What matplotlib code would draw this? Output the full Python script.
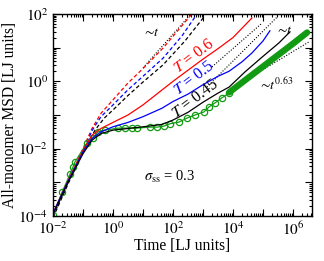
import numpy as np
import matplotlib
matplotlib.use("Agg")
import matplotlib.pyplot as plt
from matplotlib.ticker import LogLocator, FuncFormatter, NullFormatter

plt.rcParams['font.family'] = ['Liberation Serif', 'DejaVu Serif']
plt.rcParams['mathtext.fontset'] = 'stix'

# log10(time), log10(MSD)
red_x = [-2, -1.5, -1, -0.7, -0.4, 0, 0.5, 1, 1.5, 2, 2.5, 3, 3.5, 4, 4.63]
red_y = [-3.92, -2.95, -2.05, -1.6, -1.4, -1.22, -1.0, -0.7, -0.35, 0.0, 0.33, 0.66, 0.97, 1.3, 1.88]

blue_x = [-2, -1.5, -1, -0.7, -0.4, 0, 0.5, 1, 1.63, 2, 2.5, 3, 3.5, 3.87, 4.3, 4.63, 5.0, 5.23]
blue_y = [-3.92, -2.97, -2.1, -1.7, -1.5, -1.35, -1.22, -1.05, -0.8, -0.6, -0.38, -0.1, 0.15, 0.3, 0.58, 0.84, 1.2, 1.5]

black_x = [-2, -1.5, -1, -0.7, -0.4, 0, 0.5, 1, 1.63, 2, 2.5, 3, 3.5, 3.87, 4.4, 4.97, 5.53, 5.9]
black_y = [-3.95, -3.0, -2.15, -1.75, -1.55, -1.45, -1.4, -1.35, -1.28, -1.15, -0.92, -0.62, -0.35, -0.17, 0.28, 0.72, 1.14, 1.47]

green_x = [-2, -1.7, -1.43, -1.33, -1.27, -0.87, -0.67, -0.5, -0.27, 0.17, 0.4, 0.63, 0.8, 1.23, 1.47,
           1.7, 1.9, 2.2, 2.47, 2.73, 3.03, 3.2, 3.4, 3.63, 3.87]
green_y = [-3.97, -3.3, -2.75, -2.54, -2.4, -1.83, -1.68, -1.5, -1.45, -1.39, -1.39, -1.39, -1.39, -1.36, -1.36,
           -1.33, -1.26, -1.21, -1.09, -1.0, -0.91, -0.76, -0.64, -0.49, -0.35]
green_late_x = [3.87, 4.5, 5.0, 5.5, 6.0, 6.47]
green_late_y = [-0.33, 0.1, 0.44, 0.78, 1.12, 1.45]

red_d_x = [-2, -1.5, -1, -0.7, -0.4, 0, 0.5, 1, 1.67, 2.2, 2.63]
red_d_y = [-4.0, -3.0, -2.0, -1.4, -0.95, -0.55, -0.05, 0.38, 0.99, 1.55, 2.0]
blue_d_x = [-2, -1.5, -1, -0.67, -0.4, 0, 0.5, 1, 1.67, 2.3, 2.8]
blue_d_y = [-4.0, -3.0, -2.05, -1.42, -1.05, -0.7, -0.25, 0.15, 0.69, 1.35, 2.0]
black_d_x = [-2, -1.5, -1, -0.6, -0.3, 0, 0.5, 1, 1.67, 2.4, 3.03]
black_d_y = [-4.05, -3.05, -2.1, -1.45, -1.1, -0.85, -0.42, -0.02, 0.49, 1.2, 1.91]

# dotted power-law guides
guide_a = ([1.0, 2.6], [0.4, 2.0])
guide_b = ([3.3, 4.97], [0.43, 1.73])
guide_c = ([3.13, 5.47], [-0.17, 1.91])
guide_d = ([3.87, 6.53], [-0.26, 1.17])

def p(xs, ys):
    return 10.0 ** np.array(xs), 10.0 ** np.array(ys)

fig = plt.figure(figsize=(3.24, 2.61), dpi=100)
ax = fig.add_axes([0.1636, 0.1724, 0.7994, 0.7740])

green = '#139a13'
for g in (guide_a, guide_b, guide_c, guide_d):
    ax.plot(*p(*g), color='k', ls=(0, (1, 1.5)), lw=0.8)

ax.plot(*p(red_d_x, red_d_y), color='red', ls=(0, (3, 2)), lw=0.9)
ax.plot(*p(blue_d_x, blue_d_y), color='blue', ls=(0, (3, 2)), lw=0.9)
ax.plot(*p(black_d_x, black_d_y), color='k', ls=(0, (3, 2)), lw=0.9)

ax.plot(*p(green_x, green_y), color=green, lw=0.9, marker='o', ms=4.5, mfc='none', mew=0.9)
ax.plot(*p(green_late_x, green_late_y), color=green, lw=4.6, solid_capstyle='round')

ax.plot(*p(red_x, red_y), color='red', lw=0.9)
ax.plot(*p(blue_x, blue_y), color='blue', lw=0.9)
ax.plot(*p(black_x, black_y), color='k', lw=0.9)

ax.set_xscale('log')
ax.set_yscale('log')
ax.set_xlim(1e-2, 4.3e6)
ax.set_ylim(1e-4, 1e2)

def even_only(v, pos):
    e = int(round(np.log10(v)))
    return r'$10^{%d}$' % e if e % 2 == 0 else ''

for axis in (ax.xaxis, ax.yaxis):
    axis.set_major_locator(LogLocator(base=10, numticks=20))
    axis.set_major_formatter(FuncFormatter(even_only))
    axis.set_minor_locator(LogLocator(base=10, subs=np.arange(2, 10), numticks=20))
    axis.set_minor_formatter(NullFormatter())
ax.tick_params(which='both', direction='in', top=True, right=True, labelsize=11, width=0.8)
ax.tick_params(which='major', length=5)
ax.tick_params(which='minor', length=2.5)
for s in ax.spines.values():
    s.set_linewidth(1.0)

ax.set_xlabel('Time [LJ units]', fontsize=11.2, labelpad=0)
ax.set_ylabel('All-monomer MSD [LJ units]', fontsize=11.2, labelpad=0)

ax.text(10**1.25, 10**1.45, r'$\sim\!t$', fontsize=10, ha='center', va='center')
ax.text(10**5.7, 10**1.5, r'$\sim\!t$', fontsize=10, ha='center', va='center')
ax.text(10**5.43, 10**-0.1, r'$\sim\!t^{0.63}$', fontsize=10, ha='center', va='center')
ax.text(10**2.72, 10**0.74, r'$T$ = 0.6', color='red', fontsize=11.5, rotation=37, ha='center', va='center')
ax.text(10**2.7, 10**0.1, r'$T$ = 0.5', color='blue', fontsize=11.5, rotation=37, ha='center', va='center')
ax.text(10**2.75, 10**-0.52, r'$T$ = 0.45', color='k', fontsize=11.5, rotation=37, ha='center', va='center')
ax.text(10**1.9, 10**-2.85, r'$\sigma_{\rm ss}$ = 0.3', fontsize=10.5, ha='center', va='center')

fig.savefig('out.png', dpi=100)
